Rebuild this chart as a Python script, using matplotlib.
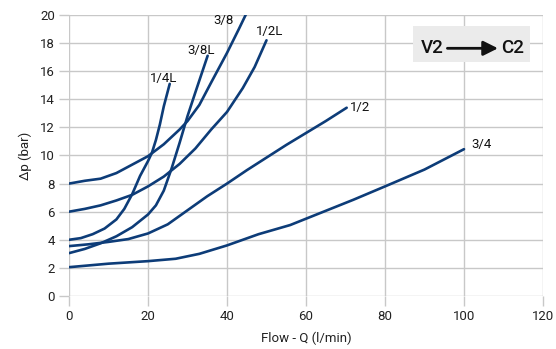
import matplotlib.pyplot as plt

plt.rcParams['font.family'] = ['Roboto', 'DejaVu Sans']

# Flow (l/min) and pressure drop (bar)
q_14L = [0, 3, 6, 9, 12, 14, 16, 18, 20, 21, 22, 23, 24, 25.5]
dp_14L = [4.0, 4.12, 4.4, 4.8, 5.45, 6.2, 7.25, 8.55, 9.6, 10.2, 11.1, 12.2, 13.5, 15.1]

q_38L = [0, 4, 8, 12, 16, 20, 22, 24, 26, 28, 30, 32, 35.1]
dp_38L = [3.05, 3.35, 3.75, 4.25, 4.9, 5.8, 6.45, 7.5, 9.1, 10.9, 12.8, 14.5, 17.1]

q_38 = [0, 4, 8, 12, 16, 20, 24, 28, 30, 33, 36, 40, 43, 45.4]
dp_38 = [8.0, 8.2, 8.35, 8.75, 9.35, 9.95, 10.8, 11.85, 12.45, 13.6, 15.2, 17.3, 19.0, 20.4]

q_12L = [0, 4, 8, 12, 16, 20, 24, 28, 32, 36, 40, 44, 47, 50]
dp_12L = [6.0, 6.2, 6.45, 6.8, 7.2, 7.8, 8.5, 9.4, 10.5, 11.85, 13.1, 14.8, 16.3, 18.2]

q_12 = [0, 5, 10, 15, 20, 25, 30, 35, 40, 45, 50, 55, 60, 65, 70.3]
dp_12 = [3.55, 3.68, 3.85, 4.05, 4.45, 5.1, 6.1, 7.1, 8.0, 8.95, 9.85, 10.75, 11.6, 12.45, 13.4]

q_34 = [0, 10, 20, 27, 33, 40, 48, 56, 60, 64, 72, 80, 90, 100]
dp_34 = [2.05, 2.3, 2.48, 2.65, 3.0, 3.6, 4.4, 5.05, 5.5, 5.95, 6.85, 7.8, 9.0, 10.45]

curves = [
    (q_14L, dp_14L, '1/4L', (20.4, 15.5)),
    (q_38L, dp_38L, '3/8L', (29.9, 17.5)),
    (q_38, dp_38, '3/8', (36.6, 19.6)),
    (q_12L, dp_12L, '1/2L', (47.4, 18.8)),
    (q_12, dp_12, '1/2', (71.2, 13.4)),
    (q_34, dp_34, '3/4', (101.8, 10.75)),
]

fig = plt.figure(figsize=(5.56, 3.49), dpi=100)
ax = fig.add_axes([0.1241, 0.1519, 0.8525, 0.8051])

line_color = '#0d3c78'
for q, dp, name, pos in curves:
    ax.plot(q, dp, color=line_color, lw=1.9, solid_capstyle='round',
            solid_joinstyle='round', zorder=3)
    ax.text(pos[0], pos[1], name, fontsize=9.5, color='#111111', va='center', ha='left')

ax.set_xlim(0, 120)
ax.set_ylim(0, 20)
ax.set_xticks(range(0, 121, 20))
ax.set_yticks(range(0, 21, 2))
ax.grid(True, color='#c8c8c8', lw=1.0)
ax.set_axisbelow(True)
for s in ax.spines.values():
    s.set_visible(False)
ax.tick_params(length=7, width=1.0, color='#c8c8c8', labelsize=9.5, labelcolor='#222222', pad=3)

ax.set_xlabel('Flow - Q (l/min)', fontsize=9.5, color='#222222', labelpad=6)
ax.set_ylabel('\u0394p (bar)', fontsize=9.5, color='#222222', labelpad=6)

# V2 -> C2 box
ax.add_patch(plt.Rectangle((87.0, 16.68), 29.7, 2.54, facecolor='#ebebeb',
                           edgecolor='none', zorder=2))
ax.text(89.0, 17.63, 'V2', fontsize=13.5, fontweight='medium', color='#111111',
        va='center', ha='left', zorder=4)
ax.text(109.5, 17.63, 'C2', fontsize=13.5, fontweight='medium', color='#111111',
        va='center', ha='left', zorder=4)
ax.annotate('', xy=(108.6, 17.63), xytext=(95.8, 17.63),
            arrowprops=dict(arrowstyle='-|>', color='#111111', lw=2.0,
                            mutation_scale=22, shrinkA=0, shrinkB=0), zorder=4)

fig.savefig('out.png', dpi=100)
